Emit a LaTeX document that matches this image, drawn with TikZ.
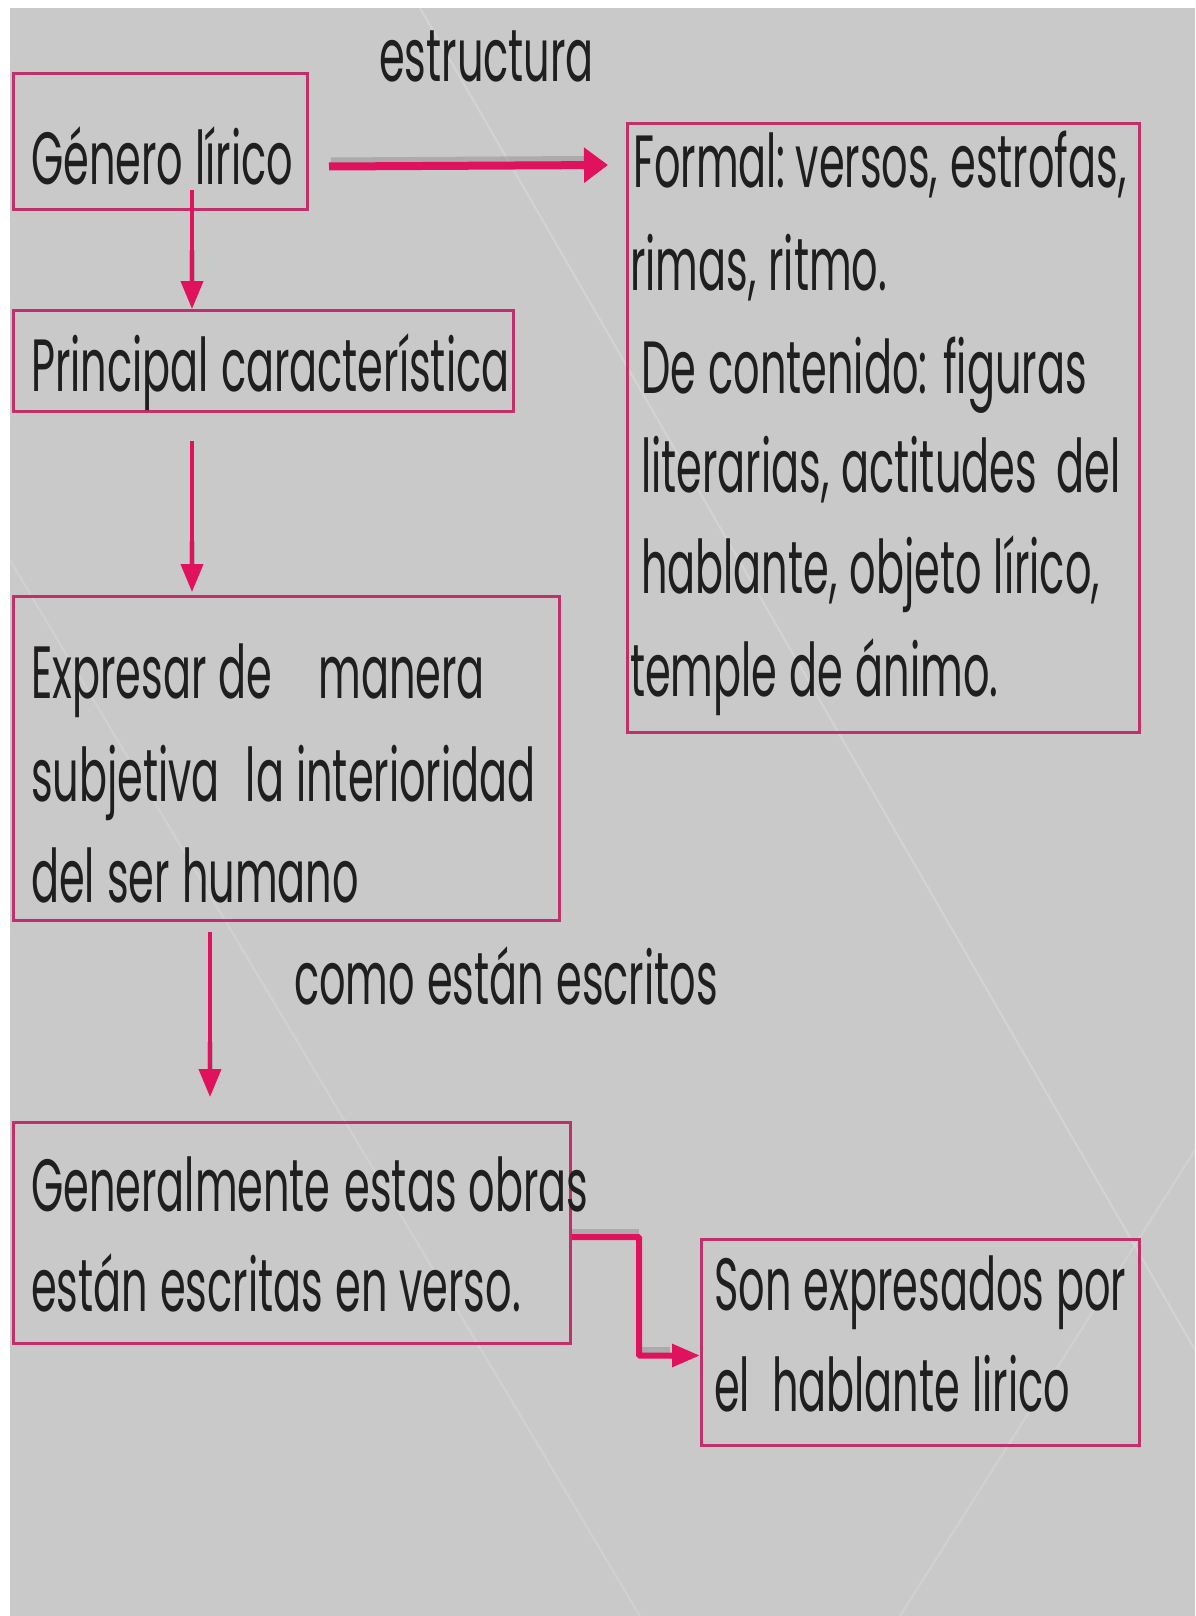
\documentclass[tikz,border=0pt]{standalone}
\usepackage{fontspec}
\newfontfamily\pop[FakeStretch=0.56,WordSpace=1.1]{Poppins}
\usetikzlibrary{arrows.meta,calc}
\definecolor{bggray}{HTML}{C9C9C9}
\definecolor{boxpink}{HTML}{C0306A}
\definecolor{arrpink}{HTML}{E0125E}
\begin{document}
\begin{tikzpicture}[x=1pt,y=-1pt,
  box/.style={draw=boxpink, line width=3pt, rectangle, inner sep=0pt, anchor=north west},
  txt/.style={inner sep=0pt, anchor=base west, font=\pop\fontsize{74}{100}\selectfont, text=black!88},
  arr/.style={draw=arrpink, line width=#1, -{Triangle[length=28pt,width=22pt]}},
  arr/.default=5pt,
  harr/.style={draw=arrpink, line width=#1, -{Triangle[length=24pt,width=34pt]}},
  shad/.style={draw=black, opacity=0.15, line width=#1},
  shad/.default=6pt]
\useasboundingbox (0,0) rectangle (1195,1616);
\fill[white] (0,0) rectangle (1195,1616);
\fill[bggray] (10,8) rectangle (1195,1616);
% faint diagonal light lines of the background
\draw[white, opacity=0.2, line width=2pt] (420,8) -- (1195,1350);
\draw[white, opacity=0.15, line width=2pt] (10,560) -- (640,1616);
\draw[white, opacity=0.15, line width=2pt] (1195,1150) -- (900,1616);
% boxes
\node[box, minimum width=294, minimum height=136] (b1) at (12,72) {};
\node[box, minimum width=500, minimum height=101] (b2) at (12,309) {};
\node[box, minimum width=546, minimum height=324] (b3) at (12,595) {};
\node[box, minimum width=557, minimum height=221] (b4) at (12,1121) {};
\node[box, minimum width=512, minimum height=609] (b5) at (626,122) {};
\node[box, minimum width=438, minimum height=206] (b6) at (700,1238) {};
% texts
\node[txt] (lab1) at (379,82) {estructura};
\node[txt] (t1) at (31,185) {Género lírico};
\node[txt] (t2) at (31,391) {Principal característica};
\node[txt] (t3a) at (31,698) {Expresar de\hspace{46pt}manera};
\node[txt] (t3b) at (31,801) {subjetiva\hspace{26pt}la interioridad};
\node[txt] (t3c) at (31,902) {del ser humano};
\node[txt] (lab2) at (294,1004) {como están escritos};
\node[txt] (t4a) at (31,1211) {Generalmente\hspace{14pt}estas obras};
\node[txt] (t4b) at (31,1311) {están escritas en\hspace{12pt}verso.};
\node[txt] (t5a) at (633,188) {Formal:\hspace{10pt}versos, estrofas,};
\node[txt] (t5b) at (630,290) {rimas, ritmo.};
\node[txt] (t5c) at (641,393) {De contenido: figuras};
\node[txt] (t5d) at (641,492) {literarias, actitudes\hspace{20pt}del};
\node[txt] (t5e) at (641,593) {hablante, objeto lírico,};
\node[txt] (t5f) at (630,696) {temple de ánimo.};
\node[txt] (t6a) at (714,1310) {Son expresados por};
\node[txt] (t6b) at (714,1411) {el\hspace{22pt}hablante lirico};
% connectors
\coordinate (a1s) at ($(b1.east)+(20,25)$);
\coordinate (a1e) at ($(b5.north west)+(-18,43)$);
\draw[shad=8pt] ($(a1s)+(2,-5)$) -- ($(a1e)+(-24,-5)$);
\draw[harr=8pt] (a1s) -- (a1e);
\coordinate (a2s) at ($(b1.south west)+(180,-21)$);
\draw[shad=6pt] ($(a2s)+(0,60)$) -- ($(b2.north west)+(180,-24)$);
\draw[arr=4pt] (a2s) -- ($(b2.north west)+(180,0)$);
\coordinate (a3s) at ($(b2.south west)+(180,28)$);
\draw[shad=6pt] ($(a3s)+(0,100)$) -- ($(b3.north west)+(180,-26)$);
\draw[arr=4pt] (a3s) -- ($(b3.north west)+(180,-3)$);
\coordinate (a4s) at ($(b3.south west)+(198,10)$);
\draw[shad=6pt] ($(a4s)+(0,110)$) -- ($(b4.north west)+(198,-50)$);
\draw[arr=4pt] (a4s) -- ($(b4.north west)+(198,-24)$);
\coordinate (a5s) at ($(b4.east)+(0,4)$);
\coordinate (a5m) at ($(b4.east)+(67,4)$);
\draw[shad=7pt] ($(a5s)+(0,-5)$) -- ($(a5m)+(0,-5)$);
\draw[shad=7pt] ($(b6.west)+(-64,8)$) -- ($(b6.west)+(-30,8)$);
\draw[arr=6pt, rounded corners=1pt] (a5s) -- (a5m) |- ($(b6.west)+(0,13)$);
\end{tikzpicture}
\end{document}
